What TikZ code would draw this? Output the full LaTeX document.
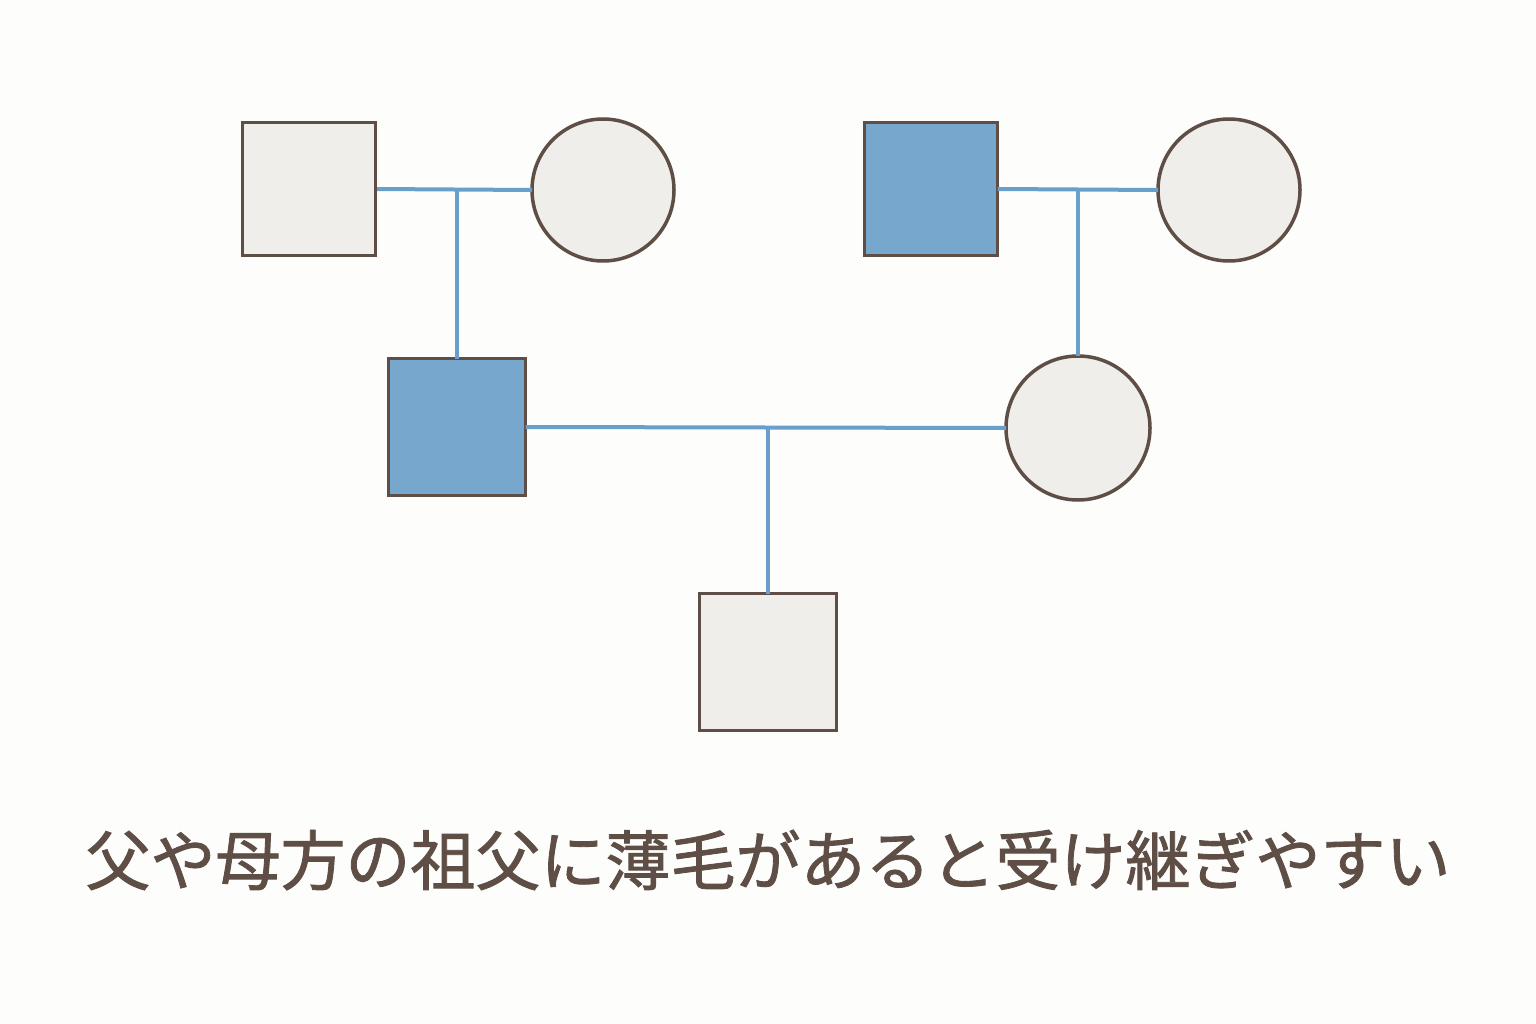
\documentclass[tikz,border=0pt]{standalone}
\usepackage{fontspec}
\newfontfamily\cjk[FakeBold=1.3]{Noto Sans CJK JP}
\definecolor{bg}{HTML}{FDFDFC}
\definecolor{pale}{HTML}{F0EEEA}
\definecolor{edge}{HTML}{5E4E46}
\definecolor{blu}{HTML}{77A7CC}
\definecolor{lin}{HTML}{6A9FCB}
\begin{document}
\begin{tikzpicture}[x=1pt,y=-1pt,
  sq/.style={draw=edge,line width=3.5pt,fill=pale,minimum size=133pt,inner sep=0pt,outer sep=0pt},
  ci/.style={circle,draw=edge,line width=3.5pt,fill=pale,minimum size=142pt,inner sep=0pt,outer sep=0pt},
  aff/.style={fill=blu},
  ln/.style={draw=lin,line width=4pt}]
\path[fill=bg] (0,0) rectangle (1536,1024);
\useasboundingbox (0,0) rectangle (1536,1024);
\node[sq] (gf1) at (309,189) {};
\node[ci] (gm1) at (603,190) {};
\node[sq,aff] (gf2) at (931,189) {};
\node[ci] (gm2) at (1229,190) {};
\node[sq,aff,minimum size=137pt] (fa) at (457,427) {};
\node[ci,minimum size=144pt] (mo) at (1078,428) {};
\node[sq,minimum size=137pt] (son) at (768,662) {};
\coordinate (m1) at (457,189);
\coordinate (m2) at (1078,189);
\coordinate (m3) at (768,427);
\draw[ln] (gf1.east) -- (gm1.west);
\draw[ln] (m1) -- (fa.north);
\draw[ln] (gf2.east) -- (gm2.west);
\draw[ln] (m2) -- (mo.north);
\draw[ln] (fa.east) -- (mo.west);
\draw[ln] (m3) -- (son.north);
\draw[sq,fill=none] (gf1.north west) rectangle (gf1.south east);
\node[text=edge,font=\cjk\fontsize{65}{70}\selectfont] (t) at (768,860) {父や母方の祖父に薄毛があると受け継ぎやすい};
\end{tikzpicture}
\end{document}
